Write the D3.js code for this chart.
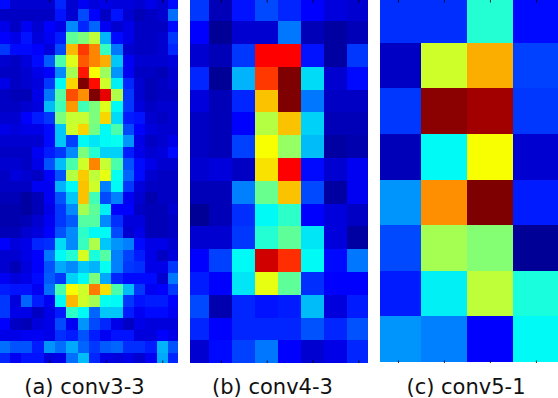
<!DOCTYPE html>
<html>
<head>
<meta charset="utf-8">
<script src="https://cdn.jsdelivr.net/npm/d3@7"></script>
<style>
    html, body { margin: 0; padding: 0; background: #fff; }
    svg { display: block; }
    text { font-family: "DejaVu Sans", sans-serif; }
</style>
</head>
<body>
<svg id="chart" width="558" height="398"></svg>
<script>
/********************** DATA *************************/
// Activation, 0 = darkest blue, 1 = darkest red
const conv33 = [
    [.12,.07,.07,.07,.07,.15,.07,.10,.08,.09,.08,.08,.07,.09,.07,.12],
    [.06,.06,.06,.06,.06,.13,.07,.19,.11,.06,.13,.07,.05,.06,.07,.23],
    [.09,.06,.10,.07,.11,.09,.26,.15,.22,.10,.07,.09,.06,.06,.06,.12],
    [.11,.09,.13,.08,.10,.14,.47,.50,.58,.30,.12,.09,.06,.06,.07,.17],
    [.17,.12,.12,.11,.08,.19,.72,.84,.77,.43,.24,.07,.06,.06,.07,.15],
    [.07,.06,.08,.12,.21,.45,.62,.81,.77,.73,.32,.10,.07,.07,.07,.08],
    [.06,.06,.07,.09,.11,.26,.55,.87,.65,.54,.27,.10,.06,.06,.05,.07],
    [.09,.06,.07,.08,.17,.37,.69,1.0,.88,.60,.36,.15,.07,.05,.06,.07],
    [.06,.05,.05,.09,.24,.46,.82,.76,1.0,.91,.56,.17,.07,.05,.06,.06],
    [.06,.06,.07,.08,.31,.44,.75,.44,.50,.62,.37,.17,.08,.06,.07,.07],
    [.07,.07,.11,.14,.17,.50,.59,.59,.50,.69,.34,.14,.13,.07,.06,.07],
    [.09,.08,.09,.09,.12,.32,.60,.69,.49,.37,.45,.19,.11,.08,.07,.07],
    [.07,.07,.07,.07,.12,.32,.18,.37,.35,.37,.38,.27,.09,.06,.07,.09],
    [.06,.06,.06,.10,.14,.17,.26,.50,.41,.33,.33,.14,.09,.07,.08,.12],
    [.07,.07,.06,.09,.20,.31,.45,.60,.77,.59,.45,.20,.12,.09,.07,.07],
    [.06,.08,.07,.06,.11,.20,.57,.70,.58,.63,.38,.22,.12,.07,.06,.06],
    [.06,.06,.06,.10,.10,.30,.37,.71,.60,.25,.37,.17,.08,.06,.06,.06],
    [.05,.05,.03,.05,.10,.20,.32,.71,.44,.19,.25,.10,.07,.04,.06,.06],
    [.04,.04,.03,.05,.09,.17,.26,.55,.47,.36,.11,.11,.06,.05,.05,.07],
    [.04,.04,.05,.07,.10,.17,.21,.46,.46,.26,.16,.08,.08,.05,.05,.06],
    [.05,.05,.07,.08,.11,.20,.26,.42,.37,.37,.19,.07,.09,.05,.05,.06],
    [.11,.08,.09,.15,.16,.34,.26,.43,.56,.32,.27,.25,.12,.09,.09,.07],
    [.07,.07,.09,.11,.24,.37,.41,.61,.40,.46,.25,.18,.14,.09,.06,.08],
    [.07,.05,.08,.11,.20,.29,.26,.32,.30,.38,.25,.17,.16,.09,.09,.17],
    [.10,.08,.09,.12,.21,.17,.33,.37,.50,.29,.15,.12,.12,.12,.07,.24],
    [.14,.13,.13,.10,.23,.45,.65,.60,.78,.68,.45,.31,.17,.10,.11,.17],
    [.17,.08,.22,.14,.10,.37,.72,.60,.55,.38,.37,.17,.13,.14,.14,.11],
    [.17,.09,.09,.06,.09,.14,.42,.37,.22,.32,.32,.14,.10,.12,.12,.10],
    [.11,.06,.05,.08,.09,.19,.10,.27,.19,.15,.09,.06,.09,.08,.08,.08],
    [.09,.09,.10,.10,.09,.16,.14,.20,.14,.10,.13,.13,.08,.08,.11,.09],
    [.23,.20,.20,.14,.27,.23,.29,.22,.17,.21,.22,.16,.16,.14,.30,.20],
    [.15,.10,.13,.13,.08,.09,.23,.31,.15,.09,.08,.09,.07,.10,.29,.15]
];
const conv43 = [
    [.17,.05,.13,.19,.15,.11,.08,.07],
    [.11,.02,.07,.07,.24,.05,.03,.05],
    [.07,.05,.17,.89,.89,.13,.03,.17],
    [.15,.02,.30,.84,1.0,.34,.07,.12],
    [.08,.05,.15,.71,1.0,.24,.06,.06],
    [.06,.05,.11,.57,.71,.33,.05,.05],
    [.06,.05,.18,.65,.53,.31,.03,.04],
    [.07,.08,.06,.68,.89,.12,.07,.10],
    [.05,.05,.25,.48,.71,.19,.03,.10],
    [.02,.05,.16,.37,.42,.11,.08,.06],
    [.07,.07,.17,.41,.47,.35,.08,.03],
    [.11,.18,.37,.93,.85,.37,.12,.24],
    [.14,.11,.35,.63,.47,.16,.11,.11],
    [.19,.04,.15,.13,.14,.31,.08,.14],
    [.15,.11,.15,.15,.15,.20,.15,.20],
    [.07,.12,.18,.24,.11,.07,.09,.15]
];
const conv51 = [
    [.16,.16,.41,.12],
    [.06,.60,.73,.18],
    [.17,.99,.97,.17],
    [.05,.37,.65,.07],
    [.27,.76,1.0,.14],
    [.19,.55,.51,.02],
    [.14,.36,.58,.40],
    [.27,.25,.11,.37]
];
const captions = ["(a) conv3-3", "(b) conv4-3", "(c) conv5-1"];
const ticksA = [4, 9, 14];
const ticksB = [1, 3, 5, 7];
const ticksC = [0, 1, 2, 3];

/********************** SETUP *************************/
const svg = d3.select("#chart");

// Each panel is a cropped image, so the view does not end on cell edges
const panels = [
    { id: "a", grid: conv33, ticks: ticksA, caption: captions[0], left: 0, right: 178, captionX: 84.5, xView: [-0.36, 15.39], yView: [-0.32, 31.41] },
    { id: "b", grid: conv43, ticks: ticksB, caption: captions[1], left: 190, right: 368, captionX: 272.5, xView: [-0.35, 7.42], yView: [-0.43, 15.49] },
    { id: "c", grid: conv51, ticks: ticksC, caption: captions[2], left: 380, right: 558, captionX: 466, xView: [-0.39, 3.48], yView: [-0.44, 7.52] }
];
const plotHeight = 363;

// Jet colormap
const jet = d3.scaleLinear()
    .domain([0, 0.11, 0.25, 0.375, 0.5, 0.65, 0.775, 0.89, 1])
    .range(["#00007f", "#0000ff", "#0080ff", "#00fff5", "#7cff7c", "#f7ff00", "#ff8000", "#ff0000", "#7f0000"])
    .clamp(true);

/********************** DRAW *************************/
panels.forEach((panel) => {
    const xScale = d3.scaleLinear().domain(panel.xView).range([panel.left, panel.right]);
    const yScale = d3.scaleLinear().domain(panel.yView).range([0, plotHeight]);

    svg.append("clipPath")
        .attr("id", "clip-" + panel.id)
        .append("rect")
        .attr("x", panel.left)
        .attr("y", 0)
        .attr("width", panel.right - panel.left)
        .attr("height", plotHeight);

    const g = svg.append("g")
        .attr("clip-path", `url(#clip-${panel.id})`)
        .attr("shape-rendering", "crispEdges");

    // One group per row, one rect per cell, rounded so no seams show between cells
    g.selectAll("g")
        .data(panel.grid)
        .join("g")
        .each(function (row, r) {
            const top = Math.round(yScale(r - 0.5));
            const bottom = Math.round(yScale(r + 0.5));
            d3.select(this).selectAll("rect")
                .data(row)
                .join("rect")
                .attr("x", (d, c) => Math.round(xScale(c - 0.5)))
                .attr("y", top)
                .attr("width", (d, c) => Math.round(xScale(c + 0.5)) - Math.round(xScale(c - 0.5)))
                .attr("height", bottom - top)
                .attr("fill", (d) => jet(d));
        });

    // Small inward ticks, top and bottom, no labels
    [d3.axisBottom, d3.axisTop].forEach((axis, i) => {
        svg.append("g")
            .attr("transform", `translate(0,${i === 0 ? 0 : plotHeight})`)
            .call(axis(xScale).tickValues(panel.ticks).tickSize(2.5).tickFormat(""))
            .call((a) => a.select(".domain").remove())
            .call((a) => a.selectAll("line").attr("stroke", "#000").attr("stroke-width", 0.8));
    });

    svg.append("text")
        .attr("x", panel.captionX)
        .attr("y", 394)
        .attr("text-anchor", "middle")
        .attr("font-size", 21)
        .attr("fill", "#111")
        .text(panel.caption);
});
</script>
</body>
</html>
